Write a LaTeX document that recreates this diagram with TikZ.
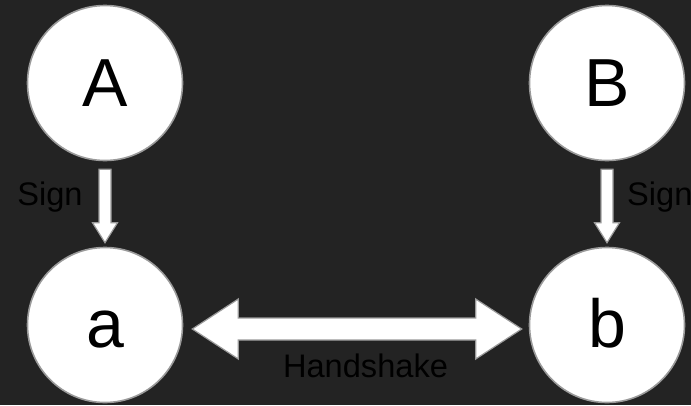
\documentclass[tikz,border=0pt]{standalone}
\usepackage{fontspec}
\setmainfont{Liberation Sans}
\usetikzlibrary{calc}
\definecolor{bg}{HTML}{232323}
\definecolor{edge}{HTML}{9A9A9A}
\begin{document}
\begin{tikzpicture}[x=1pt,y=-1pt,
  circ/.style={circle,draw=edge,fill=white,line width=1.6pt,minimum size=155pt,inner sep=0pt},
  big/.style={font=\fontsize{68}{68}\selectfont,text=black},
  lbl/.style={font=\fontsize{32.6}{34}\selectfont,text=black,inner sep=0pt},
  blockarrow/.style={draw=edge,fill=white,line width=1.2pt,line join=miter}]
\fill[bg] (0,0) rectangle (691,405);
\useasboundingbox (0,0) rectangle (691,405);
\clip (0,0) rectangle (691,405);
\node[circ] (A) at (105,83) {};
\node[circ] (B) at (607,83) {};
\node[circ] (a) at (105,325) {};
\node[circ] (b) at (607,325) {};
\node[big,anchor=base] (tA) at (105,106) {A};
\node[big,anchor=base] (tB) at (607,106) {B};
\node[big,anchor=base] (ta) at (105,347) {a};
\node[big,anchor=base] (tb) at (607,347) {b};
% vertical arrows
\foreach \s/\t in {A/a,B/b}{
  \draw[blockarrow]
    ($(\s.south)+(-6,8)$) -- ($(\s.south)+(6,8)$) --
    ($(\t.north)+(6,-24)$) -- ($(\t.north)+(12.5,-24)$) --
    ($(\t.north)+(0,-4)$) --
    ($(\t.north)+(-12.5,-24)$) -- ($(\t.north)+(-6,-24)$) -- cycle;
}
% double arrow
\draw[blockarrow]
  ($(a.east)+(9,4)$) -- ($(a.east)+(55,-26)$) -- ($(a.east)+(55,-7)$) --
  ($(b.west)+(-53,-7)$) -- ($(b.west)+(-53,-26)$) -- ($(b.west)+(-7,4)$) --
  ($(b.west)+(-53,34)$) -- ($(b.west)+(-53,15)$) --
  ($(a.east)+(55,15)$) -- ($(a.east)+(55,34)$) -- cycle;
\node[lbl,anchor=base] (s1) at (50,205) {Sign};
\node[lbl,anchor=base west] (s2) at (627,205) {Sign};
\node[lbl,anchor=base] (hs) at (365.5,377) {Handshake};
\end{tikzpicture}
\end{document}
